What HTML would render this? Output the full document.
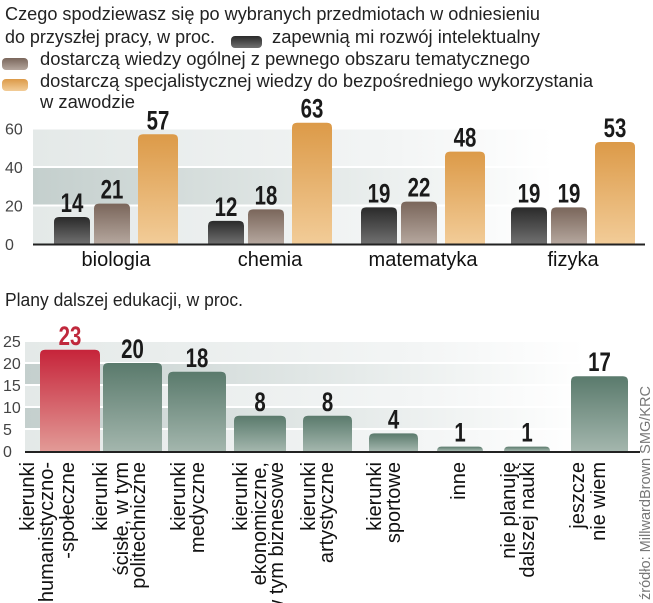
<!DOCTYPE html>
<html><head><meta charset="utf-8"><style>
body{margin:0;background:#fff;}
svg{display:block;font-family:"Liberation Sans Narrow","Liberation Sans",sans-serif;}
</style></head><body>
<svg id="c" width="653" height="603" viewBox="0 0 653 603" xmlns="http://www.w3.org/2000/svg">
<defs>
<linearGradient id="gDark" x1="0" y1="0" x2="0" y2="1"><stop offset="0" stop-color="#2a2a2a"/><stop offset="1" stop-color="#707070"/></linearGradient>
<linearGradient id="gBrown" x1="0" y1="0" x2="0" y2="1"><stop offset="0" stop-color="#7a665b"/><stop offset="1" stop-color="#b5a79e"/></linearGradient>
<linearGradient id="gOrange" x1="0" y1="0" x2="0" y2="1"><stop offset="0" stop-color="#dc9a48"/><stop offset="1" stop-color="#f2cc98"/></linearGradient>
<linearGradient id="gGreen" x1="0" y1="0" x2="0" y2="1"><stop offset="0" stop-color="#5a7a6c"/><stop offset="1" stop-color="#a3b6ad"/></linearGradient>
<linearGradient id="gRed" x1="0" y1="0" x2="0" y2="1"><stop offset="0" stop-color="#c6243a"/><stop offset="1" stop-color="#e29a96"/></linearGradient>
<linearGradient id="bandD" x1="0" y1="0" x2="1" y2="0"><stop offset="0" stop-color="#c4cfcd"/><stop offset="0.6" stop-color="#e6ebea"/><stop offset="1" stop-color="#ffffff"/></linearGradient>
<linearGradient id="bandL" x1="0" y1="0" x2="1" y2="0"><stop offset="0" stop-color="#e4e9e8"/><stop offset="0.7" stop-color="#f3f5f5"/><stop offset="1" stop-color="#ffffff"/></linearGradient>
</defs>
<g fill="#222" font-size="18">
<text x="5" y="20" textLength="535" lengthAdjust="spacingAndGlyphs">Czego spodziewasz się po wybranych przedmiotach w odniesieniu</text>
<text x="5" y="43" textLength="210" lengthAdjust="spacingAndGlyphs">do przyszłej pracy, w proc.</text>
<rect x="231" y="36" width="31" height="12" rx="4" fill="url(#gDark)"/>
<text x="272" y="43" textLength="268" lengthAdjust="spacingAndGlyphs">zapewnią mi rozwój intelektualny</text>
<rect x="2" y="58" width="26" height="12" rx="4" fill="url(#gBrown)"/>
<text x="40" y="65" textLength="490" lengthAdjust="spacingAndGlyphs">dostarczą wiedzy ogólnej z pewnego obszaru tematycznego</text>
<rect x="2" y="79" width="26" height="12" rx="4" fill="url(#gOrange)"/>
<text x="40" y="87" textLength="553" lengthAdjust="spacingAndGlyphs">dostarczą specjalistycznej wiedzy do bezpośredniego wykorzystania</text>
<text x="40" y="108" textLength="95" lengthAdjust="spacingAndGlyphs">w zawodzie</text>
<text x="5" y="306" textLength="238" lengthAdjust="spacingAndGlyphs">Plany dalszej edukacji, w proc.</text>
</g>
<g id="topg"></g>
<g id="botg"></g>
<text transform="translate(650,600) rotate(-90)" font-size="15" fill="#777" textLength="214" lengthAdjust="spacingAndGlyphs">źródło: MillwardBrown SMG/KRC</text>
</svg>
<script>
const subjects=["biologia","chemia","matematyka","fizyka"];
const intellectual=[14,12,19,19];
const general=[21,18,22,19];
const specialist=[57,63,48,53];
const topTicks=[0,20,40,60];
const plans=["kierunki|humanistyczno-|-społeczne","kierunki|ścisłe, w tym|politechniczne","kierunki|medyczne","kierunki|ekonomiczne,|w tym biznesowe","kierunki|artystyczne","kierunki|sportowe","inne","nie planuję|dalszej nauki","jeszcze|nie wiem"];
const planValues=[23,20,18,8,8,4,1,1,17];
const botTicks=[0,5,10,15,20,25];

const NS="http://www.w3.org/2000/svg";
function mk(tag,attrs,parent){const e=document.createElementNS(NS,tag);for(const k in attrs)e.setAttribute(k,attrs[k]);parent.appendChild(e);return e;}
function barPath(x,y,w,h){const r=Math.min(5,h);return `M${x},${y+h}V${y+r}Q${x},${y} ${x+r},${y}H${x+w-r}Q${x+w},${y} ${x+w},${y+r}V${y+h}Z`;}

const topG=document.getElementById('topg');
const y1=v=>244-v*(115.5/60);
[[60,40,'url(#bandL)'],[40,20,'url(#bandD)'],[20,0,'url(#bandL)']].forEach(b=>{
 const r=mk('rect',{x:33,y:y1(b[0]),width:520,height:y1(b[1])-y1(b[0]),fill:b[2]},topG);
 
 
});
topTicks.forEach(t=>{
 if(t>0){const l=mk('line',{x1:33,x2:560,y1:y1(t),y2:y1(t),stroke:'#fff','stroke-width':2},topG);
 
 }
 const tx=mk('text',{x:5,y:y1(t)+6,'font-size':16,fill:'#444'},topG);tx.textContent=t;
 
 
});
const groupX=[54,208,361,511];
const series=[[intellectual,'url(#gDark)',0,36],[general,'url(#gBrown)',40,36],[specialist,'url(#gOrange)',84,40]];
subjects.forEach((s,i)=>{
 series.forEach((se,j)=>{
  const v=se[0][i],x=groupX[i]+se[2],w=se[3];
  const p=mk('path',{d:barPath(x,y1(v),w,244-y1(v)),fill:se[1]},topG);
  
  
  const t=mk('text',{transform:`translate(${x+w/2},${y1(v)-5}) scale(0.85,1.1)`,'text-anchor':'middle','font-size':24,'font-weight':'bold',fill:'#1a1a1a'},topG);t.textContent=v;
  
  
 });
 const c=mk('text',{x:groupX[i]+62,y:266,'text-anchor':'middle','font-size':20,fill:'#111'},topG);c.textContent=s;
 
 
});
const ax=mk('line',{x1:33,x2:645,y1:244.5,y2:244.5,stroke:'#222','stroke-width':2},topG);



const botG=document.getElementById('botg');
const y2=v=>451-v*4.4;
[[25,20,'url(#bandL)'],[20,15,'url(#bandD)'],[15,10,'url(#bandL)'],[10,5,'url(#bandD)'],[5,0,'url(#bandL)']].forEach(b=>{
 const r=mk('rect',{x:25,y:y2(b[0]),width:560,height:y2(b[1])-y2(b[0]),fill:b[2]},botG);
 
 
});
botTicks.forEach(t=>{
 if(t>0){const l=mk('line',{x1:25,x2:600,y1:y2(t),y2:y2(t),stroke:'#fff','stroke-width':2},botG);
 
 }
 const tx=mk('text',{x:3,y:y2(t)+6,'font-size':16,fill:'#444'},botG);tx.textContent=t;
 
 
});
const bx=[40,103,168,234,303,369,437,504,571],bw=[60,59,58,52,49,49,46,46,57];
const lineX=[[27,46,67],[100,121,138],[178,197],[240,259,276],[308,326],[374,393],[458],[508,527],[577,598]];
plans.forEach((p,i)=>{
 const v=planValues[i];
 const b=mk('path',{d:barPath(bx[i],y2(v),bw[i],451-y2(v)),fill:i===0?'url(#gRed)':'url(#gGreen)'},botG);
 
 
 const t=mk('text',{transform:`translate(${bx[i]+bw[i]/2},${y2(v)-5}) scale(0.85,1.1)`,'text-anchor':'middle','font-size':24,'font-weight':'bold',fill:i===0?'#c0283c':'#1a1a1a'},botG);t.textContent=v;
 
 
 p.split('|').forEach((ln,k)=>{
  const bxp=lineX[i][k]+7;
  const lt=mk('text',{transform:`translate(${bxp},462) rotate(-90)`,'text-anchor':'end','font-size':20,fill:'#111'},botG);lt.textContent=ln;
  
  
 });
});
const ax2=mk('line',{x1:25,x2:640,y1:452,y2:452,stroke:'#222','stroke-width':2},botG);


</script>
</body></html>
